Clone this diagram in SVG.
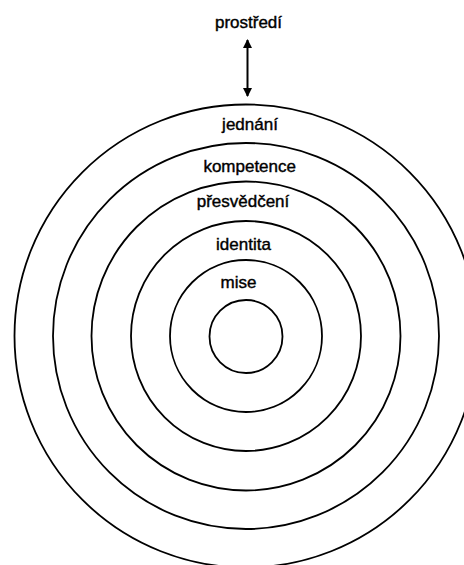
<svg xmlns="http://www.w3.org/2000/svg" width="464" height="565" viewBox="0 0 464 565">
  <style>
    .ring { fill: none; stroke: #000; stroke-width: 1.8; }
    .lbl { font-family: "Liberation Sans", Arial, sans-serif; font-size: 17px; fill: #000; stroke: #000; stroke-width: 0.4; text-anchor: middle; }
    .conn { stroke: #000; stroke-width: 2; fill: none; }
  </style>
  <defs>
    <marker id="head" viewBox="0 0 10 10" refX="9" refY="5" markerWidth="10" markerHeight="9" markerUnits="userSpaceOnUse" orient="auto-start-reverse">
      <path d="M0,0 L10,5 L0,10 Z" fill="#000"/>
    </marker>
  </defs>
  <rect width="464" height="565" fill="#fff"/>
  <g id="ring-jednani"><circle class="ring" cx="246" cy="336" r="231.5"/></g>
  <g id="ring-kompetence"><circle class="ring" cx="246" cy="336" r="193"/></g>
  <g id="ring-presvedceni"><circle class="ring" cx="246" cy="336" r="154.5"/></g>
  <g id="ring-identita"><circle class="ring" cx="246" cy="336" r="115"/></g>
  <g id="ring-mise"><circle class="ring" cx="246" cy="336" r="76"/></g>
  <g id="core"><circle class="ring" cx="246" cy="336.5" r="36.5"/></g>
  <g id="labels">
    <text id="prostredi" class="lbl" x="248.5" y="28">prostředí</text>
    <text id="jednani" class="lbl" x="250" y="129.5">jednání</text>
    <text id="kompetence" class="lbl" x="249.7" y="171.5">kompetence</text>
    <text id="presvedceni" class="lbl" x="243" y="206.5">přesvědčení</text>
    <text id="identita" class="lbl" x="243.5" y="250">identita</text>
    <text id="mise" class="lbl" x="238.5" y="288">mise</text>
  </g>
  <g id="connectors">
    <line class="conn" x1="247.5" y1="40" x2="247.5" y2="96" marker-start="url(#head)" marker-end="url(#head)"/>
  </g>
</svg>
